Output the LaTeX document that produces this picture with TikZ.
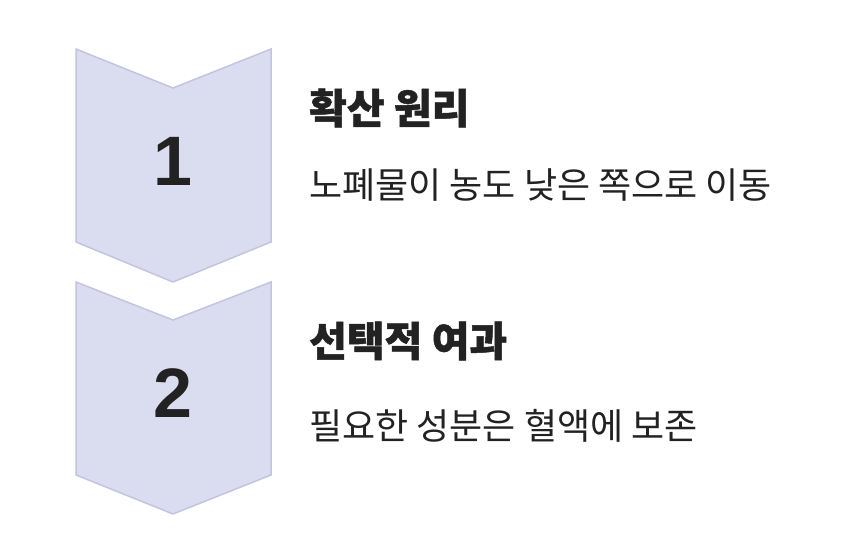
\documentclass[tikz,border=0pt]{standalone}
\usepackage{fontspec}
\setmainfont{Liberation Sans}
\newfontfamily\kr{Noto Sans CJK KR}
\newfontfamily\krb{Noto Sans CJK KR Black}[FakeBold=1.2]
\definecolor{chevfill}{HTML}{DADCEF}
\definecolor{chevline}{HTML}{C3C5E0}
\definecolor{ink}{HTML}{222222}
\begin{document}
\begin{tikzpicture}[x=1pt,y=-1pt,
  chev/.style={fill=chevfill,draw=chevline,line width=1.5pt,line join=miter},
  num/.style={font=\fontsize{70}{70}\selectfont\bfseries,text=ink,inner sep=0pt},
  ttl/.style={font=\krb\fontsize{41}{41}\selectfont,text=ink,anchor=west,inner sep=0pt},
  sub/.style={font=\kr\fontsize{36}{36}\selectfont,text=ink,anchor=west,inner sep=0pt}]
\useasboundingbox (0,0) rectangle (850,556);
\fill[white] (0,0) rectangle (850,556);
\draw[chev] (76,49) -- (173,88) -- (271,49) -- (271,242) -- (173,282) -- (76,242) -- cycle;
\draw[chev] (76,282) -- (173,320) -- (271,282) -- (271,475) -- (173,514) -- (76,475) -- cycle;
\node[num] (n1) at (173,161) {1};
\node[num] (n2) at (173,393) {2};
\node[ttl] (t1) at (309,108) {확산 원리};
\node[sub] (s1) at (309,185) {노폐물이 농도 낮은 쪽으로 이동};
\node[ttl] (t2) at (309,341) {선택적 여과};
\node[sub] (s2) at (309,426) {필요한 성분은 혈액에 보존};
\end{tikzpicture}
\end{document}
